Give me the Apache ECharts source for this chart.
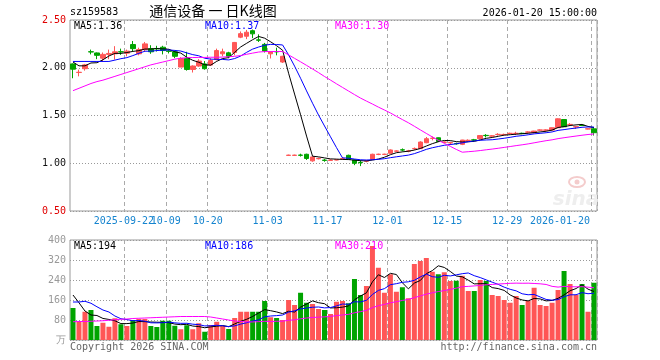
<!DOCTYPE html>
<html><head><meta charset="utf-8">
<script src="https://cdn.jsdelivr.net/npm/echarts@6/dist/echarts.min.js"></script>
<style>html,body{margin:0;padding:0;background:#fff}#c{width:660px;height:360px}</style>
</head><body><div id="c"></div>
<script>
const dates = [
'2025-09-09','2025-09-10','2025-09-11','2025-09-12','2025-09-15','2025-09-16','2025-09-17','2025-09-18','2025-09-19',
'2025-09-22','2025-09-23','2025-09-24','2025-09-25','2025-09-26','2025-09-29','2025-09-30',
'2025-10-09','2025-10-10','2025-10-13','2025-10-14','2025-10-15','2025-10-16','2025-10-17',
'2025-10-20','2025-10-21','2025-10-22','2025-10-23','2025-10-24','2025-10-27','2025-10-28','2025-10-29','2025-10-30','2025-10-31',
'2025-11-03','2025-11-04','2025-11-05','2025-11-06','2025-11-07','2025-11-10','2025-11-11','2025-11-12','2025-11-13','2025-11-14',
'2025-11-17','2025-11-18','2025-11-19','2025-11-20','2025-11-21','2025-11-24','2025-11-25','2025-11-26','2025-11-27','2025-11-28',
'2025-12-01','2025-12-02','2025-12-03','2025-12-04','2025-12-05','2025-12-08','2025-12-09','2025-12-10','2025-12-11','2025-12-12',
'2025-12-15','2025-12-16','2025-12-17','2025-12-18','2025-12-19','2025-12-22','2025-12-23','2025-12-24','2025-12-25','2025-12-26',
'2025-12-29','2025-12-30','2025-12-31',
'2026-01-05','2026-01-06','2026-01-07','2026-01-08','2026-01-09','2026-01-12','2026-01-13','2026-01-14','2026-01-15','2026-01-16',
'2026-01-19','2026-01-20'];

const opens = [
2.040,1.950,1.990,2.168,2.155,2.100,2.140,2.146,2.168,2.153,
2.243,2.146,2.190,2.200,2.202,2.215,2.176,2.167,2.007,2.097,
1.982,2.018,2.040,2.028,2.086,2.146,2.156,2.160,2.320,2.330,
2.388,2.292,2.245,2.146,2.170,2.060,
1.082,1.082,1.086,1.094,1.025,1.047,1.033,1.030,1.034,1.047,
1.083,1.035,1.009,1.022,1.042,1.092,1.092,1.104,1.126,1.141,
1.126,1.152,1.153,1.215,1.260,1.267,1.219,1.213,1.207,1.198,
1.238,1.245,1.257,1.292,1.284,1.300,1.299,1.311,1.311,1.314,
1.325,1.320,1.346,1.346,1.347,1.372,1.458,1.404,1.380,1.398,
1.358,1.360];
const closes = [
1.985,1.953,2.030,2.165,2.130,2.140,2.150,2.167,2.165,2.174,
2.200,2.190,2.250,2.167,2.198,2.180,2.172,2.120,2.097,1.982,
2.018,2.070,1.990,2.076,2.180,2.167,2.120,2.265,2.357,2.372,
2.355,2.288,2.176,2.167,2.166,2.120,
1.085,1.085,1.083,1.050,1.066,1.050,1.030,1.033,1.037,1.050,
1.042,1.000,1.006,1.025,1.094,1.095,1.095,1.139,1.129,1.138,
1.129,1.155,1.222,1.257,1.263,1.228,1.222,1.216,1.204,1.243,
1.241,1.242,1.290,1.289,1.287,1.303,1.302,1.314,1.314,1.311,
1.328,1.337,1.349,1.349,1.372,1.465,1.382,1.407,1.383,1.395,
1.361,1.320];
const lows = [
1.890,1.910,1.970,2.140,2.090,2.060,2.090,2.086,2.135,2.120,
2.170,2.130,2.165,2.146,2.170,2.140,2.150,2.100,2.007,1.970,
1.950,2.010,1.980,2.020,2.076,2.120,2.100,2.130,2.310,2.300,
2.310,2.270,2.160,2.097,2.130,2.050,
1.078,1.078,1.070,1.035,1.016,1.040,1.016,1.025,1.030,1.035,
1.040,0.980,0.970,1.010,1.040,1.085,1.085,1.100,1.120,1.125,
1.115,1.140,1.150,1.210,1.240,1.225,1.210,1.190,1.195,1.190,
1.230,1.230,1.250,1.270,1.280,1.290,1.295,1.305,1.295,1.305,
1.320,1.315,1.340,1.340,1.345,1.370,1.380,1.395,1.360,1.390,
1.355,1.290];
const highs = [
2.045,1.980,2.040,2.190,2.160,2.160,2.190,2.226,2.200,2.190,
2.280,2.210,2.270,2.236,2.230,2.230,2.190,2.180,2.110,2.167,
2.025,2.090,2.070,2.100,2.200,2.200,2.167,2.270,2.380,2.396,
2.400,2.350,2.260,2.170,2.210,2.125,
1.090,1.090,1.100,1.100,1.070,1.060,1.045,1.040,1.040,1.065,
1.090,1.040,1.035,1.035,1.100,1.100,1.100,1.145,1.135,1.155,
1.140,1.165,1.230,1.275,1.280,1.270,1.230,1.225,1.215,1.245,
1.250,1.255,1.295,1.305,1.295,1.315,1.310,1.320,1.330,1.320,
1.335,1.340,1.355,1.355,1.375,1.470,1.460,1.420,1.390,1.405,
1.365,1.370];
const volumes = [
128,73,113,120,56,69,53,87,63,56,
80,84,84,56,52,77,77,57,43,59,
43,67,33,60,73,56,44,88,113,113,
113,113,156,91,88,80,
160,140,189,149,144,124,120,104,153,156,
147,244,180,216,376,289,189,263,193,211,
167,304,316,328,273,263,271,236,237,257,
196,196,240,236,180,176,160,149,176,140,
157,209,140,136,149,200,276,224,180,224,
113,229];

// moving averages before enough in-window history exists
const ma5Head  = [2.06,2.02,2.02,2.05];
const ma10Head = [2.066,2.066,2.066,2.066,2.066,2.066,2.066,2.08,2.095];
const ma30Head = [1.76,1.785,1.81,1.835,1.855,1.87,1.89,1.91,1.93,1.95,1.97,1.99,2.01,2.03,2.045,2.06,2.075,2.09,2.10,2.105,2.107,2.108,2.108,2.11,2.11,2.112,2.115,2.12,2.128];
const vma5Head  = [180,149,116,100];
const vma10Head = [152,152,155,147,133,120,112,96,85];
const vma30Head = [73,74,74,75,76,77,79,81,83,84,86,87,88,89,90,91,92,93,94,94,94,94,94,92,88,84,80,76,74];

const tickDates  = ['2025-09-22','2025-10-09','2025-10-20','2025-11-03','2025-11-17','2025-12-01','2025-12-15','2025-12-29','2026-01-20'];
const tickLabels = ['2025-09-22','10-09','10-20','11-03','11-17','12-01','12-15','12-29','2026-01-20'];
const priceTicks = [0.5,1.0,1.5,2.0,2.5];
const volTicks = [0,80,160,240,320,400];

const headerTexts = {code:'sz159583', title:'通信设备 一 日K线图', time:'2026-01-20 15:00:00'};
const priceMaLabels = ['MA5:1.36','MA10:1.37','MA30:1.30'];
const volMaLabels = ['MA5:194','MA10:186','MA30:210'];

function ma(arr, n, head){
  return arr.map((v,i)=>{
    if(i < head.length) return head[i];
    let s=0; for(let k=i-n+1;k<=i;k++) s+=arr[k];
    return +(s/n).toFixed(4);
  });
}
const RED='#ff5656', GREEN='#00a400';
const MONO="'DejaVu Sans Mono', monospace";
const tickIdx = tickDates.map(d=>dates.indexOf(d));
const kdata = dates.map((d,i)=>[opens[i],closes[i],lows[i],highs[i]]);

const chart = echarts.init(document.getElementById('c'), null, {renderer:'canvas'});
const richLab = {
  m:{fontFamily:MONO,fontSize:10,color:'#1584cf',padding:[0,6,0,0]},
  e:{fontFamily:MONO,fontSize:10,color:'#1584cf',padding:[0,68,0,0]}
};
// labelSet: which tick positions this axis labels (split into two axes so overlapping labels both show)
const xCommon = (gi, labelSet, showSplit) => ({
  type:'category', gridIndex:gi, data:dates, boundaryGap:true, position:'bottom', offset:0,
  axisLine:{show:false}, axisTick:{show:false},
  axisLabel: labelSet ? {
    interval:(i)=>labelSet.includes(i),
    hideOverlap:false,
    formatter:(v,i)=>{const k=tickIdx.indexOf(i); return (k===tickIdx.length-1?'{e|':'{m|')+tickLabels[k]+'}';},
    margin:5, rich:richLab
  } : {show:false},
  splitLine:{show:showSplit, interval:(i)=>tickIdx.includes(i), lineStyle:{color:'#aaa',type:[4,3],width:1}}
});
const evenTicks = tickIdx.filter((v,k)=>k%2===1);
const oddTicks = tickIdx.filter((v,k)=>k%2===0);

const option = {
  animation:false,
  backgroundColor:'#fff',
  grid:[
    {left:70, top:20, width:527, height:191, show:true, borderColor:'#999', borderWidth:1},
    {left:70, top:240, width:527, height:100, show:true, borderColor:'#999', borderWidth:1}
  ],
  xAxis:[xCommon(0,oddTicks,true), xCommon(1,null,true), xCommon(0,evenTicks,false)],
  yAxis:[
    {type:'value', gridIndex:0, min:priceTicks[0], max:priceTicks[priceTicks.length-1], interval:0.5,
     axisLine:{show:false}, axisTick:{show:false},
     axisLabel:{fontFamily:MONO,fontSize:10,margin:4,padding:[3,0,0,0],formatter:v=>v.toFixed(2),
       color:(v)=>{const n=+v; return (n===priceTicks[0]||n===priceTicks[priceTicks.length-1])?'#e00000':'#111';}},
     splitLine:{show:true,lineStyle:{color:'#999',type:[1,2]}}},
    {type:'value', gridIndex:1, min:volTicks[0], max:volTicks[volTicks.length-1], interval:80,
     axisLine:{show:false}, axisTick:{show:false},
     axisLabel:{fontFamily:MONO,fontSize:10,margin:4,padding:[2,0,0,0],color:'#999',formatter:v=>v===0?'万':String(v)},
     splitLine:{show:true,lineStyle:{color:'#999',type:[1,2]}}}
  ],
  series:[
    {type:'candlestick', xAxisIndex:0, yAxisIndex:0, data:kdata, barWidth:5,
     itemStyle:{color:RED,color0:GREEN,borderColor:RED,borderColor0:GREEN,borderWidth:1}},
    {type:'line', xAxisIndex:0, yAxisIndex:0, data:ma(closes,5,ma5Head), symbol:'none', lineStyle:{color:'#000',width:1}, z:5},
    {type:'line', xAxisIndex:0, yAxisIndex:0, data:ma(closes,10,ma10Head), symbol:'none', lineStyle:{color:'#0000ff',width:1}, z:5},
    {type:'line', xAxisIndex:0, yAxisIndex:0, data:ma(closes,30,ma30Head), symbol:'none', lineStyle:{color:'#ff00ff',width:1}, z:5},
    {type:'bar', xAxisIndex:1, yAxisIndex:1, data:volumes, barWidth:5,
     itemStyle:{color:(p)=> closes[p.dataIndex]>=opens[p.dataIndex]?RED:GREEN}},
    {type:'line', xAxisIndex:1, yAxisIndex:1, data:ma(volumes,5,vma5Head), symbol:'none', lineStyle:{color:'#000',width:1}, z:5},
    {type:'line', xAxisIndex:1, yAxisIndex:1, data:ma(volumes,10,vma10Head), symbol:'none', lineStyle:{color:'#0000ff',width:1}, z:5},
    {type:'line', xAxisIndex:1, yAxisIndex:1, data:ma(volumes,30,vma30Head), symbol:'none', lineStyle:{color:'#ff00ff',width:1}, z:5}
  ],
  graphic:[
    {type:'text', left:70, top:7, style:{text:headerTexts.code, font:"10px "+MONO, fill:'#000'}},
    {type:'text', x:213, y:11, style:{text:headerTexts.title, font:"14px 'Noto Sans CJK SC'", fill:'#000', align:'center', verticalAlign:'middle'}},
    {type:'text', x:597, y:13, style:{text:headerTexts.time, font:"10px "+MONO, fill:'#000', align:'right', verticalAlign:'middle'}},
    {type:'text', x:74, y:26, z:10, style:{text:priceMaLabels[0], font:"10px "+MONO, fill:'#000', verticalAlign:'middle'}},
    {type:'text', x:205, y:26, z:10, style:{text:priceMaLabels[1], font:"10px "+MONO, fill:'#0000ff', verticalAlign:'middle'}},
    {type:'text', x:335, y:26, z:10, style:{text:priceMaLabels[2], font:"10px "+MONO, fill:'#ff00ff', verticalAlign:'middle'}},
    {type:'text', x:74, y:246, z:10, style:{text:volMaLabels[0], font:"10px "+MONO, fill:'#000', verticalAlign:'middle'}},
    {type:'text', x:205, y:246, z:10, style:{text:volMaLabels[1], font:"10px "+MONO, fill:'#0000ff', verticalAlign:'middle'}},
    {type:'text', x:335, y:246, z:10, style:{text:volMaLabels[2], font:"10px "+MONO, fill:'#ff00ff', verticalAlign:'middle'}},
    {type:'text', x:70, y:347, style:{text:'Copyright 2026 SINA.COM', font:"10px "+MONO, fill:'#666', verticalAlign:'middle'}},
    {type:'text', x:597, y:347, style:{text:'http://finance.sina.com.cn', font:"10px "+MONO, fill:'#666', align:'right', verticalAlign:'middle'}},
    {type:'ellipse', z:0, shape:{cx:577, cy:182, rx:8, ry:5}, style:{fill:'none', stroke:'#f4cccc', lineWidth:2}},
    {type:'circle', z:0, shape:{cx:577, cy:182, r:2.5}, style:{fill:'#f4cccc'}},
    {type:'text', z:0, x:576, y:200, style:{text:'sina', font:"italic bold 20px 'DejaVu Sans'", fill:'#eeeeee', align:'center', verticalAlign:'middle'}}
  ]
};
chart.setOption(option);
</script></body></html>
